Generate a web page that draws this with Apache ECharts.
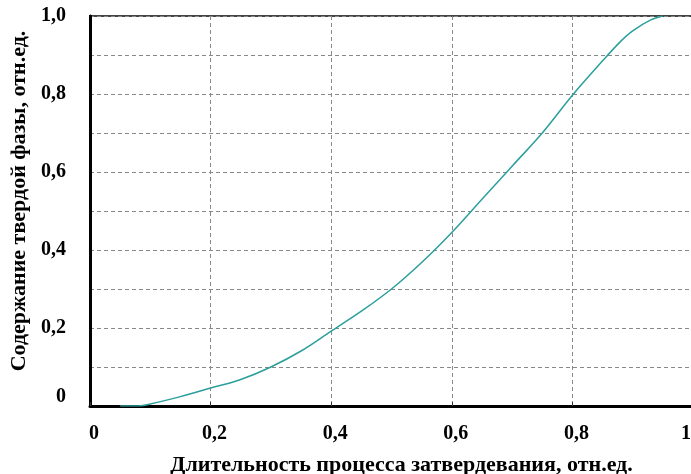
<!DOCTYPE html>
<html>
<head>
<meta charset="utf-8">
<script src="https://cdn.jsdelivr.net/npm/echarts@6/dist/echarts.min.js"></script>
<style>
html,body{margin:0;padding:0;background:#fff;}
#chart{width:691px;height:474px;}
</style>
</head>
<body>
<div id="chart"></div>
<script>
const timeValues = [0.05, 0.08, 0.10, 0.15, 0.20, 0.25, 0.30, 0.35, 0.40, 0.45, 0.50, 0.55, 0.60, 0.65, 0.70, 0.75, 0.80, 0.85, 0.88, 0.90, 0.93, 0.95];
const solidFraction = [0.0, 0.0, 0.005, 0.024, 0.046, 0.068, 0.100, 0.141, 0.192, 0.243, 0.300, 0.368, 0.445, 0.530, 0.615, 0.700, 0.797, 0.885, 0.935, 0.962, 0.990, 1.0];
const xTickLabels = ['0', '0,2', '0,4', '0,6', '0,8', '1'];
const yTickLabels = ['0', '0,2', '0,4', '0,6', '0,8', '1,0'];
const xTitle = 'Длительность процесса затвердевания, отн.ед.';
const yTitle = 'Содержание твердой фазы, отн.ед.';

const font = '"Liberation Serif", "DejaVu Serif", serif';
const chart = echarts.init(document.getElementById('chart'));
chart.setOption({
  animation: false,
  grid: {left: 90, right: -2, top: 16, bottom: 68, outerBoundsMode: 'none', containLabel: false,
         show: true, borderColor: '#444', borderWidth: 2},
  xAxis: {
    type: 'value', min: 0, max: 1, interval: 0.2,
    name: xTitle, nameLocation: 'middle', nameGap: 48,
    nameTextStyle: {fontFamily: font, fontWeight: 'bold', fontSize: 22, color: '#000', padding: [0, 0, 0, 20]},
    axisLine: {show: true, onZero: false, lineStyle: {color: '#000', width: 3}},
    axisTick: {show: true, inside: true, length: 4, lineStyle: {color: '#333', width: 1}},
    axisLabel: {
      margin: 18, padding: [0, 2, 0, 10],
      alignMaxLabel: 'right',
      fontFamily: font, fontWeight: 'bold', fontSize: 20, color: '#000',
      formatter: v => xTickLabels[Math.round(v / 0.2)]
    },
    splitLine: {show: true, lineStyle: {color: '#888', type: [4, 3], width: 1}}
  },
  yAxis: {
    type: 'value', min: 0, max: 1, interval: 0.1,
    name: yTitle, nameLocation: 'middle', nameGap: 58,
    nameTextStyle: {fontFamily: font, fontWeight: 'bold', fontSize: 22, color: '#000', padding: [0, 0, 0, 20]},
    axisLine: {show: true, onZero: false, lineStyle: {color: '#000', width: 3}},
    axisTick: {show: false},
    axisLabel: {
      margin: 24,
      fontFamily: font, fontWeight: 'bold', fontSize: 20, color: '#000',
      formatter: v => {
        const k = Math.round(v * 10);
        if (k % 2) return '';
        if (k === 0) return '{z|' + yTickLabels[0] + '}';
        return yTickLabels[k / 2];
      },
      rich: {z: {fontFamily: font, fontWeight: 'bold', fontSize: 20, color: '#000', padding: [0, 0, 18, 0]}}
    },
    splitLine: {show: true, lineStyle: {color: '#888', type: [4, 3], width: 1}}
  },
  series: [{
    type: 'line',
    data: timeValues.map((t, i) => [t, solidFraction[i]]),
    smooth: 0.35,
    showSymbol: false,
    lineStyle: {color: '#2b9f9b', width: 1.5},
    z: 5
  }]
});
</script>
</body>
</html>
